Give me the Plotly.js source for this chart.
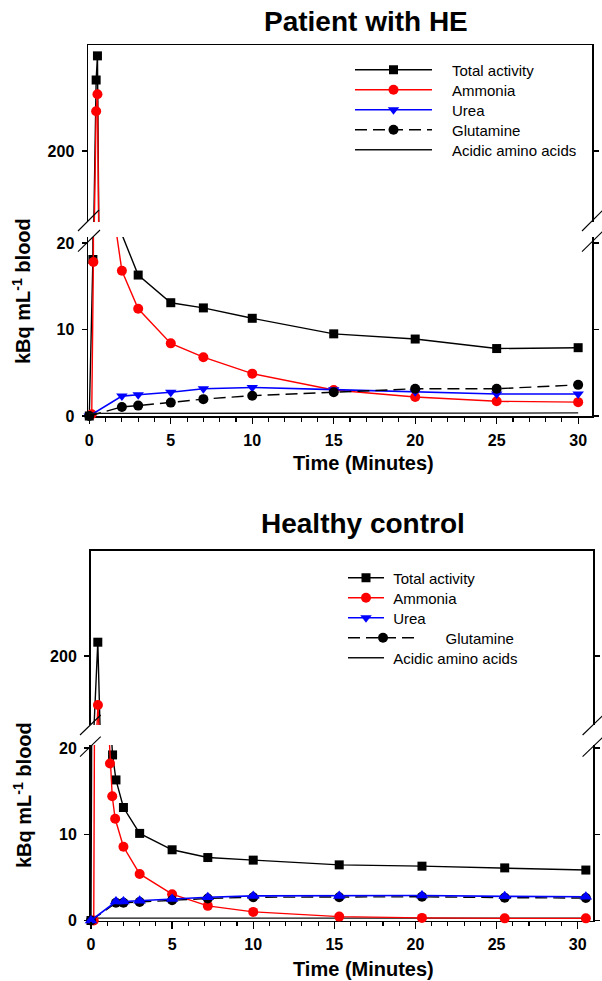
<!DOCTYPE html>
<html><head><meta charset="utf-8">
<script src="https://cdn.plot.ly/plotly-3.0.1.min.js"></script>
<style>html,body{margin:0;padding:0;background:#fff}#chart{width:602px;height:981px}</style>
</head><body><div id="chart"></div>
<script>
// ---------- Data: Patient with HE ----------
const heTotalT = [0, 0.22, 0.42, 0.5, 0.6, 2, 3, 5, 7, 10, 15, 20, 25, 30];
const heTotalV = [0, 18.1, 300, 334, 45, 21, 16.3, 13.1, 12.5, 11.3, 9.5, 8.9, 7.8, 7.9];
const heAmmT = [0.15, 0.25, 0.42, 0.5, 0.6, 2, 3, 5, 7, 10, 15, 20, 25, 30];
const heAmmV = [0.2, 17.8, 256, 280, 35, 16.8, 12.4, 8.4, 6.8, 4.9, 3.0, 2.2, 1.7, 1.6];
const heUreaT = [0, 2, 3, 5, 7, 10, 15, 20, 25, 30];
const heUreaV = [0, 2.3, 2.45, 2.75, 3.15, 3.3, 3.05, 2.8, 2.55, 2.55];
const heGlnT = [0, 2, 3, 5, 7, 10, 15, 20, 25, 30];
const heGlnV = [0, 1.05, 1.2, 1.55, 1.95, 2.35, 2.75, 3.15, 3.15, 3.6];
const heAcidT = [0, 2, 3, 5, 7, 10, 15, 20, 25, 30];
const heAcidV = [0.3, 0.3, 0.3, 0.3, 0.35, 0.35, 0.35, 0.35, 0.35, 0.35];

// ---------- Data: Healthy control ----------
const ctTotalT = [0, 0.42, 0.6, 1.17, 1.33, 1.54, 2, 3, 5, 7.2, 10, 15.3, 20.4, 25.5, 30.5];
const ctTotalV = [0, 220, 60, 24, 19.2, 16.3, 13.1, 10.1, 8.2, 7.3, 7.0, 6.45, 6.3, 6.1, 5.85];
const ctAmmT = [0.17, 0.43, 0.6, 1.17, 1.31, 1.49, 2, 3, 5, 7.2, 10, 15.3, 20.4, 25.5, 30.5];
const ctAmmV = [0, 129, 40, 18.2, 14.4, 11.8, 8.55, 5.4, 3.05, 1.7, 1.0, 0.45, 0.3, 0.25, 0.25];
const ctUreaT = [0, 1.54, 2, 3, 5, 7.2, 10, 15.3, 20.4, 25.5, 30.5];
const ctUreaV = [0, 2.2, 2.2, 2.3, 2.5, 2.7, 2.85, 2.85, 2.9, 2.8, 2.75];
const ctGlnT = [0, 1.54, 2, 3, 5, 7.2, 10, 15.3, 20.4, 25.5, 30.5];
const ctGlnV = [0, 2.05, 2.05, 2.15, 2.35, 2.55, 2.7, 2.7, 2.75, 2.65, 2.6];
const ctAcidT = [0, 1.54, 2, 3, 5, 7.2, 10, 15.3, 20.4, 25.5, 30.5];
const ctAcidV = [0.28, 0.28, 0.28, 0.28, 0.28, 0.28, 0.28, 0.28, 0.28, 0.28, 0.28];

const seriesNames = ['Total activity', 'Ammonia', 'Urea', 'Glutamine', 'Acidic amino acids'];
const majorTicks = [0, 5, 10, 15, 20, 25, 30];

// ---------- Layout helpers ----------
const W = 602, H = 981;
const FONT = 'Liberation Sans, Arial, sans-serif';
const px = x => x / W, py = y => 1 - y / H;

// minor (1-minute) tick positions and their labels (labels only on major ticks)
const minorVals = [], minorText = [];
for (let i = 0; i <= 30; i++) { minorVals.push(i); minorText.push(majorTicks.includes(i) ? String(i) : ''); }

const sty = {
  total: {mode: 'lines+markers', line: {color: '#000', width: 1.4}, marker: {symbol: 'square', size: 9, color: '#000'}},
  amm:   {mode: 'lines+markers', line: {color: '#ff0000', width: 1.4}, marker: {symbol: 'circle', size: 10, color: '#ff0000'}},
  ureaD: {mode: 'lines+markers', line: {color: '#0000ff', width: 1.6}, marker: {symbol: 'triangle-down', size: 10, color: '#0000ff'}},
  ureaU: {mode: 'lines+markers', line: {color: '#0000ff', width: 1.6}, marker: {symbol: 'triangle-up', size: 11, color: '#0000ff'}},
  gln:   {mode: 'lines+markers', line: {color: '#000', width: 1.4, dash: '12px,6px'}, marker: {symbol: 'circle', size: 10, color: '#000'}},
  acid:  {mode: 'lines', line: {color: '#111', width: 1.3}}
};

const traces = [];
function clone(o) { return JSON.parse(JSON.stringify(o)); }
function add(t, v, s, lowerAx, upperAx, legendId, name) {
  traces.push(Object.assign({x: t, y: v, xaxis: lowerAx[0], yaxis: lowerAx[1], cliponaxis: false,
    name: name || ' ', showlegend: !!legendId, legend: legendId || 'legend', hoverinfo: 'skip'}, clone(s)));
  traces.push(Object.assign({x: t, y: v, xaxis: upperAx[0], yaxis: upperAx[1], cliponaxis: false,
    name: ' ', showlegend: false, hoverinfo: 'skip'}, clone(s)));
}
function legendOnly(s, ax, legendId, name) {
  traces.push(Object.assign({x: [null], y: [null], xaxis: ax[0], yaxis: ax[1], name: name,
    showlegend: true, legend: legendId, hoverinfo: 'skip'}, clone(s)));
}

const sp = '\u2002';
// Top panel
add(heTotalT, heTotalV, sty.total, ['x', 'y'], ['x2', 'y2'], 'legend', sp + sp + seriesNames[0]);
add(heAmmT, heAmmV, sty.amm, ['x', 'y'], ['x2', 'y2'], 'legend2', sp + sp + seriesNames[1]);
add(heUreaT, heUreaV, sty.ureaD, ['x', 'y'], ['x2', 'y2'], 'legend3', sp + sp + seriesNames[2]);
add(heGlnT, heGlnV, sty.gln, ['x', 'y'], ['x2', 'y2'], 'legend4', sp + sp + seriesNames[3]);
add(heAcidT, heAcidV, sty.acid, ['x', 'y'], ['x2', 'y2'], 'legend5', sp + sp + seriesNames[4]);
// Bottom panel
add(ctAcidT, ctAcidV, sty.acid, ['x3', 'y3'], ['x4', 'y4'], 'legend10', '\u00a0' + seriesNames[4]);
add(ctTotalT, ctTotalV, sty.total, ['x3', 'y3'], ['x4', 'y4'], 'legend6', '\u00a0' + seriesNames[0]);
add(ctAmmT, ctAmmV, sty.amm, ['x3', 'y3'], ['x4', 'y4'], 'legend7', '\u00a0' + seriesNames[1]);
add(ctGlnT, ctGlnV, sty.gln, ['x3', 'y3'], ['x4', 'y4'], 'legend9', sp + sp + sp + seriesNames[3]);
add(ctUreaT, ctUreaV, sty.ureaU, ['x3', 'y3'], ['x4', 'y4'], null, null);
legendOnly(sty.ureaD, ['x3', 'y3'], 'legend8', '\u00a0' + seriesNames[2]);
// empty traces so that the major-tick overlay axes get drawn
traces.push({x: [null], y: [null], xaxis: 'x5', yaxis: 'y', mode: 'lines', showlegend: false, hoverinfo: 'skip'});
traces.push({x: [null], y: [null], xaxis: 'x6', yaxis: 'y3', mode: 'lines', showlegend: false, hoverinfo: 'skip'});

// ---------- Axes ----------
const tickfont = {family: FONT, size: 16, weight: 'bold', color: '#000'};
const common = {showgrid: false, zeroline: false, showline: true, linecolor: '#000', linewidth: 1.5,
  tickcolor: '#000', tickwidth: 1.3, layer: 'below traces', fixedrange: true};

function xMain(dom, range, anchor) {
  return Object.assign({}, common, {domain: dom, range: range, anchor: anchor, tickmode: 'array',
    tickvals: minorVals, ticktext: minorText, ticks: 'outside', ticklen: 4, tickwidth: 1.1,
    tickfont: tickfont, ticklabelstandoff: 5});
}
function xMajor(range, anchor, over) {
  return {overlaying: over, anchor: anchor, range: range, tickmode: 'array', tickvals: majorTicks,
    ticks: 'outside', ticklen: 7, tickwidth: 1.3, tickcolor: '#000', showticklabels: false,
    showline: false, showgrid: false, zeroline: false, fixedrange: true};
}
function xTop(dom, range, anchor, matchId) {
  return Object.assign({}, common, {domain: dom, range: range, anchor: anchor, matches: matchId, side: 'top',
    ticks: '', showticklabels: false});
}
function yAx(dom, range, anchor, vals) {
  return Object.assign({}, common, {domain: dom, range: range, anchor: anchor, tickmode: 'array', tickvals: vals,
    ticks: 'outside', ticklen: 5, mirror: 'ticks', tickfont: tickfont, ticklabelstandoff: 4});
}

const topXDom = [px(88), px(592)], topXRange = [-0.08, 30.85];
const botXDom = [px(90.5), px(593.3)], botXRange = [-0.03, 30.96];

function legendAt(xl, yc, iw) {
  return {x: px(xl), xanchor: 'left', y: py(yc), yanchor: 'middle', bgcolor: 'rgba(0,0,0,0)', borderwidth: 0,
    itemwidth: iw, font: {family: FONT, size: 15, color: '#000'}, itemclick: false, itemdoubleclick: false};
}
function brk(x1, y1, x2, y2) {
  return {type: 'line', xref: 'paper', yref: 'paper', x0: px(x1), y0: py(y1), x1: px(x2), y1: py(y2),
    line: {color: '#000', width: 1.1}};
}
function ann(text, x, y, size, angle) {
  return {text: text, xref: 'paper', yref: 'paper', x: px(x), y: py(y), xanchor: 'center', yanchor: 'middle',
    showarrow: false, textangle: angle || 0, font: {family: FONT, size: size, weight: 'bold', color: '#000'}};
}

const layout = {
  width: W, height: H, margin: {l: 0, r: 0, t: 0, b: 0}, paper_bgcolor: '#fff', plot_bgcolor: 'rgba(0,0,0,0)',
  xaxis: xMain(topXDom, topXRange, 'y'),
  yaxis: yAx([py(416), py(237)], [0, 20.7], 'x', [0, 10, 20]),
  xaxis2: xTop(topXDom, topXRange, 'y2', 'x'),
  yaxis2: yAx([py(222), py(45)], [100, 349.3], 'x2', [200]),
  xaxis3: xMain(botXDom, botXRange, 'y3'),
  yaxis3: yAx([py(920.5), py(745)], [0, 20.35], 'x3', [0, 10, 20]),
  xaxis4: xTop(botXDom, botXRange, 'y4', 'x3'),
  yaxis4: yAx([py(725), py(550.7)], [100, 352.6], 'x4', [200]),
  xaxis5: xMajor(topXRange, 'y', 'x'),
  xaxis6: xMajor(botXRange, 'y3', 'x3'),
  legend: legendAt(350, 70, 77),
  legend2: legendAt(350, 90, 77),
  legend3: legendAt(350, 110, 77),
  legend4: legendAt(350, 130, 77),
  legend5: legendAt(350, 150, 77),
  legend6: legendAt(343, 578, 36),
  legend7: legendAt(343, 598, 36),
  legend8: legendAt(343, 618, 36),
  legend9: legendAt(343, 638, 70),
  legend10: legendAt(343, 658, 36),
  shapes: [
    brk(78, 231, 99, 210), brk(78, 251.7, 100, 230),
    brk(582, 231, 603, 210), brk(582, 251.7, 604, 230),
    brk(80, 735, 100.7, 715), brk(80, 756.7, 100.7, 736.7),
    brk(582.6, 735, 603.3, 715), brk(582.6, 756.7, 603.3, 736.7)
  ],
  annotations: [
    ann('Patient with HE', 366, 22, 28),
    ann('Time (Minutes)', 363.5, 463, 20),
    ann('kBq mL<sup>-1</sup> blood', 22, 291, 20, -90),
    ann('Healthy control', 363, 523, 28),
    ann('Time (Minutes)', 363.5, 969, 20),
    ann('kBq mL<sup>-1</sup> blood', 22, 795, 20, -90)
  ]
};

Plotly.newPlot('chart', traces, layout, {staticPlot: true, displayModeBar: false});
</script>
</body></html>
